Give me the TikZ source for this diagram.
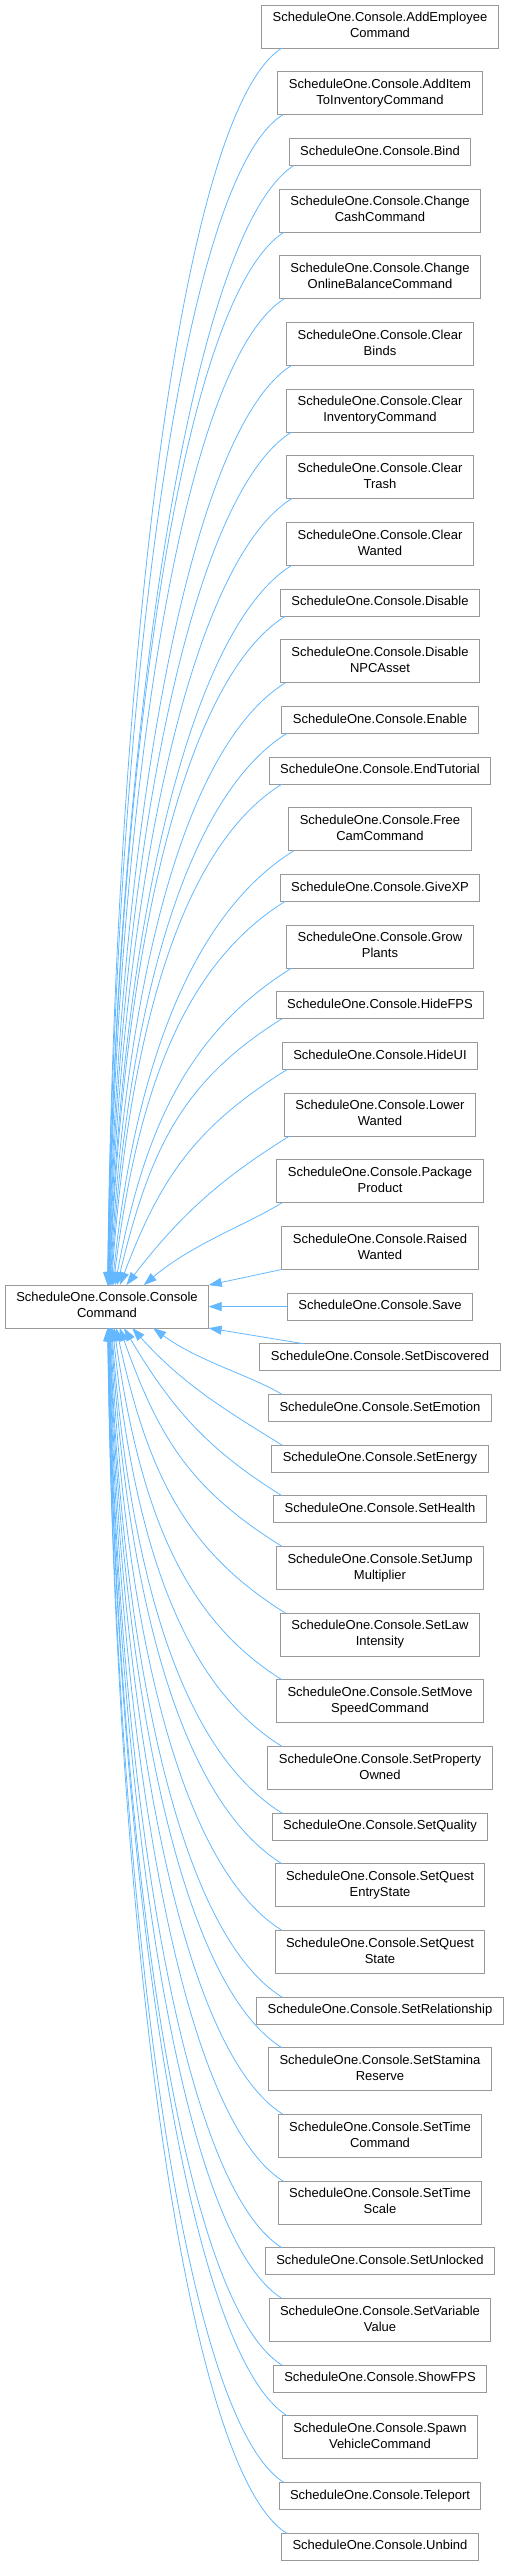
\documentclass[tikz,border=0pt]{standalone}
\usepackage{fontspec}
\setmainfont{Liberation Sans}
\usetikzlibrary{positioning,calc,arrows.meta}
\definecolor{edgeblue}{HTML}{63B8FF}
\definecolor{boxgray}{HTML}{999999}
\tikzset{
  cls/.style={draw=boxgray, line width=1pt, fill=white, align=center,
    inner xsep=11pt, inner ysep=5.5pt, outer sep=0pt,
    text height=11.2pt, text depth=4.8pt, font=\fontsize{13}{16}\selectfont},
  cls1/.style={cls},
  cls2/.style={cls, text height=27.2pt},
  inh/.style={draw=edgeblue, line width=0.8pt, -{Triangle[length=13pt,width=9pt]}}
}
\begin{document}
\begin{tikzpicture}[x=1pt, y=1pt]
\useasboundingbox (0,0) rectangle (509,-2565);
% derived classes, one column on the right
\coordinate (c0) at (380,18.67);
\foreach \txt/\h [count=\i] in {
  {AddEmployee\\Command}/2, {AddItem\\ToInventoryCommand}/2, Bind/1,
  {Change\\CashCommand}/2, {Change\\OnlineBalanceCommand}/2,
  {Clear\\Binds}/2, {Clear\\InventoryCommand}/2, {Clear\\Trash}/2, {Clear\\Wanted}/2,
  Disable/1, {Disable\\NPCAsset}/2, Enable/1, EndTutorial/1,
  {Free\\CamCommand}/2, GiveXP/1, {Grow\\Plants}/2, HideFPS/1, HideUI/1,
  {Lower\\Wanted}/2, {Package\\Product}/2, {Raised\\Wanted}/2, Save/1,
  SetDiscovered/1, SetEmotion/1, SetEnergy/1, SetHealth/1,
  {SetJump\\Multiplier}/2, {SetLaw\\Intensity}/2, {SetMove\\SpeedCommand}/2,
  {SetProperty\\Owned}/2, SetQuality/1, {SetQuest\\EntryState}/2, {SetQuest\\State}/2,
  SetRelationship/1, {SetStamina\\Reserve}/2, {SetTime\\Command}/2, {SetTime\\Scale}/2,
  SetUnlocked/1, {SetVariable\\Value}/2, ShowFPS/1, {Spawn\\VehicleCommand}/2,
  Teleport/1, Unbind/1} {
  \pgfmathtruncatemacro{\prev}{\i-1}
  \node[cls\h, below=23.67pt of c\prev] (c\i) {ScheduleOne.Console.\txt};
}
% base class, level with Save
\coordinate (bx) at (107,0);
\node[cls2] (base) at (bx |- c22) {ScheduleOne.Console.Console\\Command};
% edges from the classes above the base
\foreach \i in {1,...,20} {
  \draw[inh] let \p1=(c\i.south west), \p2=(base.north),
      \n1={max(\x1+5,282)}, \n2={\y1-\y2}, \n3={105+3192/\n2},
      \n4={min(120,0.5*\n2)}, \n5={0.35*(\n1-\n3)*min(1,150/\n2)}, \n6={0.5*\n2}
    in (\n1,\y1) .. controls ({\n1-0.85*\n4},{\y1-0.53*\n4}) and ({\n3+\n5},{\y2+\n6}) .. (\n3,\y2);
}
% edges from the classes below the base
\foreach \i in {24,...,43} {
  \draw[inh] let \p1=(c\i.north west), \p2=(base.south),
      \n1={max(\x1+5,282)}, \n2={\y2-\y1}, \n3={105+3192/\n2},
      \n4={min(120,0.5*\n2)}, \n5={0.35*(\n1-\n3)*min(1,150/\n2)}, \n6={0.5*\n2}
    in (\n1,\y1) .. controls ({\n1-0.85*\n4},{\y1+0.53*\n4}) and ({\n3+\n5},{\y2-\n6}) .. (\n3,\y2);
}
% the three level ones
\draw[inh] (c21.south west) -- (base.north east);
\draw[inh] (c22.west) -- (base.east);
\draw[inh] ([xshift=44pt]c23.north west) -- (base.south east);
\end{tikzpicture}
\end{document}
